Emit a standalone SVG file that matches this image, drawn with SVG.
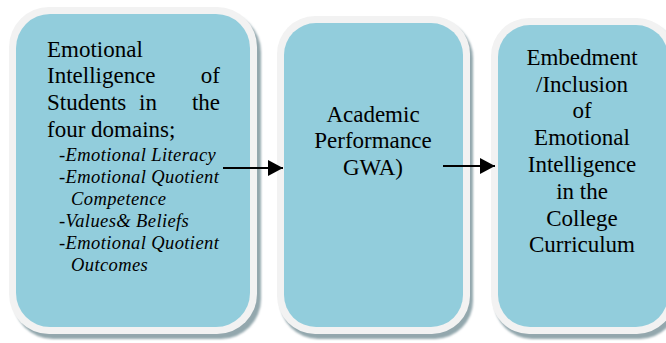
<svg xmlns="http://www.w3.org/2000/svg" width="666" height="343" viewBox="0 0 666 343">
<style>
.sh{fill:#93a7ad;}
.ob{fill:#f2f2f2;}
.ib{fill:#92cddc;}
.ln{stroke:#000;stroke-width:2;fill:none;}
</style>
<defs>
<filter id="blur" x="-5%" y="-5%" width="110%" height="110%"><feGaussianBlur stdDeviation="1.2"/></filter>
<marker id="ah" markerUnits="userSpaceOnUse" markerWidth="16" markerHeight="16" viewBox="0 0 16 16" refX="15" refY="8" orient="auto">
<polygon points="0,0 15,8 0,16" fill="#000"/>
</marker>
</defs>
<rect width="666" height="343" fill="#fff"/>
<g id="node1">
<rect class="sh" x="13" y="12" width="248" height="327" rx="40" filter="url(#blur)"/>
<rect class="ob" x="9" y="7" width="248" height="327" rx="40"/>
<rect class="ib" x="16" y="14" width="234" height="313" rx="34"/>
<g font-family="Liberation Serif, Times New Roman, serif" font-size="23" fill="#000">
<text x="47" y="57">Emotional</text>
<text x="47" y="83">Intelligence</text>
<text x="220" y="83" text-anchor="end">of</text>
<text x="47" y="110">Students</text>
<text x="139" y="110">in</text>
<text x="220" y="110" text-anchor="end">the</text>
<text x="47" y="137">four domains;</text>
</g>
<g font-family="Liberation Serif, Times New Roman, serif" font-size="18.5" font-style="italic" letter-spacing="0.4" fill="#000">
<text x="59" y="161">-Emotional Literacy</text>
<text x="59" y="183">-Emotional Quotient</text>
<text x="71" y="205">Competence</text>
<text x="59" y="227">-Values&amp; Beliefs</text>
<text x="59" y="249">-Emotional Quotient</text>
<text x="71" y="271">Outcomes</text>
</g>
</g>
<g id="node2">
<rect class="sh" x="280" y="20" width="193" height="319" rx="38" filter="url(#blur)"/>
<rect class="ob" x="277" y="16" width="193" height="318" rx="38"/>
<rect class="ib" x="284" y="23" width="179" height="304" rx="32"/>
<g font-family="Liberation Serif, Times New Roman, serif" font-size="23" fill="#000" text-anchor="middle">
<text x="373" y="122">Academic</text>
<text x="373" y="148">Performance</text>
<text x="373" y="175">GWA)</text>
</g>
</g>
<g id="node3">
<rect class="sh" x="494" y="22" width="184" height="317" rx="38" filter="url(#blur)"/>
<rect class="ob" x="491" y="18" width="184" height="316" rx="38"/>
<rect class="ib" x="498" y="25" width="170" height="302" rx="32"/>
<g font-family="Liberation Serif, Times New Roman, serif" font-size="23" fill="#000" text-anchor="middle">
<text x="582" y="65">Embedment</text>
<text x="582" y="92">/Inclusion</text>
<text x="582" y="118">of</text>
<text x="582" y="145">Emotional</text>
<text x="582" y="172">Intelligence</text>
<text x="582" y="199">in the</text>
<text x="582" y="226">College</text>
<text x="582" y="252">Curriculum</text>
</g>
</g>
<g id="connectors">
<line class="ln" x1="223" y1="168" x2="283" y2="168" marker-end="url(#ah)"/>
<line class="ln" x1="443" y1="166" x2="495" y2="166" marker-end="url(#ah)"/>
</g>
</svg>
